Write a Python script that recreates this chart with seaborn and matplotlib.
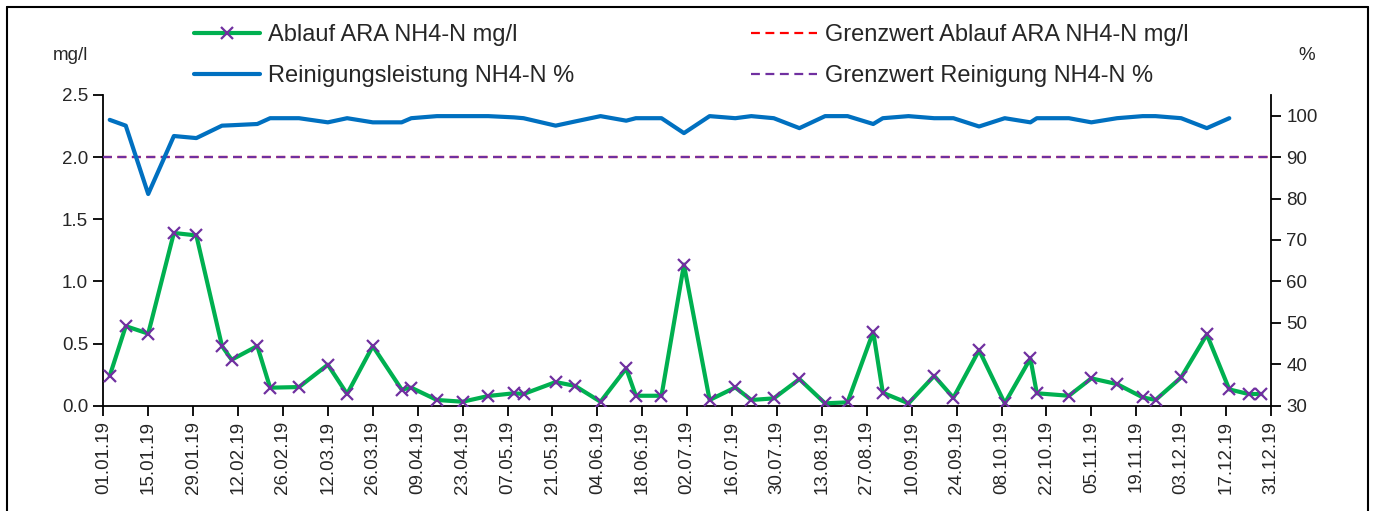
import numpy as np
import pandas as pd
import matplotlib
matplotlib.use("Agg")
import matplotlib.pyplot as plt
import matplotlib.dates as mdates
from matplotlib.lines import Line2D
import seaborn as sns

# ---------------- data ----------------
dates = ["2019-01-03", "2019-01-08", "2019-01-15", "2019-01-23", "2019-01-30",
         "2019-02-07", "2019-02-10", "2019-02-18", "2019-02-22", "2019-03-03",
         "2019-03-12", "2019-03-18", "2019-03-26", "2019-04-04", "2019-04-07",
         "2019-04-15", "2019-04-23", "2019-05-01", "2019-05-09", "2019-05-12",
         "2019-05-22", "2019-05-28", "2019-06-05", "2019-06-13", "2019-06-16",
         "2019-06-24", "2019-07-01", "2019-07-09", "2019-07-17", "2019-07-22",
         "2019-07-29", "2019-08-06", "2019-08-14", "2019-08-21", "2019-08-29",
         "2019-09-01", "2019-09-09", "2019-09-17", "2019-09-23", "2019-10-01",
         "2019-10-09", "2019-10-17", "2019-10-19", "2019-10-29", "2019-11-05",
         "2019-11-13", "2019-11-21", "2019-11-25", "2019-12-03", "2019-12-11",
         "2019-12-18", "2019-12-24", "2019-12-28"]

ablauf_nh4 = [0.24, 0.64, 0.58, 1.39, 1.37,
              0.48, 0.37, 0.48, 0.145, 0.15,
              0.33, 0.094, 0.48, 0.13, 0.145,
              0.046, 0.032, 0.078, 0.10, 0.094,
              0.19, 0.16, 0.032, 0.30, 0.08,
              0.08, 1.135, 0.046, 0.147, 0.046,
              0.059, 0.214, 0.019, 0.027, 0.594,
              0.104, 0.019, 0.24, 0.064, 0.447,
              0.019, 0.38, 0.10, 0.08, 0.22,
              0.174, 0.067, 0.046, 0.228, 0.573,
              0.131, 0.094, 0.094]

reinigung_pct = [99.0, 97.6, 81.1, 95.1, 94.6,
                 97.6, 97.7, 98.0, 99.4, 99.4,
                 98.4, 99.4, 98.4, 98.4, 99.4,
                 99.9, 99.9, 99.9, 99.6, 99.4,
                 97.6, 98.6, 99.9, 98.8, 99.4,
                 99.4, 95.8, 99.9, 99.4, 99.9,
                 99.4, 97.0, 99.9, 99.9, 98.0,
                 99.4, 99.9, 99.4, 99.4, 97.4,
                 99.4, 98.4, 99.4, 99.4, 98.4,
                 99.4, 99.9, 99.9, 99.4, 97.0,
                 99.4, np.nan, np.nan]

grenzwert_ablauf = 2.0      # mg/l
grenzwert_reinigung = 90.0  # %

labels = ["Ablauf ARA NH4-N mg/l", "Reinigungsleistung NH4-N %",
          "Grenzwert Ablauf ARA NH4-N mg/l", "Grenzwert Reinigung NH4-N %"]

df = pd.DataFrame({"Datum": pd.to_datetime(dates),
                   "Ablauf": ablauf_nh4,
                   "Reinigung": reinigung_pct})

# ---------------- style ----------------
sns.set_theme(style="white")
plt.rcParams["font.family"] = ["Liberation Sans", "DejaVu Sans"]
FS = 13.5
LEG_FS = 17

GREEN = "#00B050"
PURPLE = "#7030A0"
BLUE = "#0070C0"
RED = "#FF0000"

W, H = 1375, 511
fig = plt.figure(figsize=(W / 100, H / 100), dpi=100)
x0, x1, ytop, ybot = 103.3, 1271.0, 95.0, 405.7
ax = fig.add_axes([x0 / W, 1 - ybot / H, (x1 - x0) / W, (ybot - ytop) / H])
ax2 = ax.twinx()

# limit lines (drawn under data)
h_ga = ax.axhline(grenzwert_ablauf, color=RED, lw=1.6, ls=(0, (4, 2.5)), zorder=1)
h_gr = ax2.axhline(grenzwert_reinigung, color=PURPLE, lw=1.6, ls=(0, (4, 2.5)), zorder=1)

sns.lineplot(data=df, x="Datum", y="Ablauf", ax=ax, color=GREEN, lw=3.0,
             marker="x", markersize=8, markeredgecolor=PURPLE,
             markeredgewidth=1.6, legend=False, zorder=3)
h_ab = ax.lines[-1]
sns.lineplot(data=df, x="Datum", y="Reinigung", ax=ax2, color=BLUE, lw=3.0,
             legend=False, zorder=3)
h_re = ax2.lines[-1]

ax.set_ylim(0, 2.5)
ax.set_yticks(np.arange(0, 2.51, 0.5))
ax.set_yticklabels([f"{v:.1f}" for v in np.arange(0, 2.51, 0.5)])
ax2.set_ylim(30, 105)
ax2.set_yticks(np.arange(30, 101, 10))

start, end = pd.Timestamp("2019-01-01"), pd.Timestamp("2019-12-31")
ax.set_xlim(start, end)
ax.set_xticks(pd.date_range(start, end, freq="14D"))
ax.xaxis.set_major_formatter(mdates.DateFormatter("%d.%m.%y"))
ax.set_xlabel("")
ax.set_ylabel("")
ax2.set_ylabel("")

for a in (ax, ax2):
    a.set_facecolor("none")
    a.grid(False)
    a.spines["top"].set_visible(False)
    for s in ("left", "right", "bottom"):
        a.spines[s].set_color("black")
        a.spines[s].set_linewidth(1.3)
ax.spines["right"].set_visible(False)
ax2.spines["left"].set_visible(False)
ax2.spines["bottom"].set_visible(False)

ax.tick_params(axis="x", which="both", direction="out", length=7, width=1.3,
               color="black", labelsize=FS, labelrotation=90, pad=4,
               bottom=True)
ax.tick_params(axis="y", direction="out", length=7, width=1.3, color="black",
               labelsize=FS, left=True, pad=4)
ax2.tick_params(axis="y", direction="out", length=7, width=1.3, color="black",
                labelsize=FS, right=True, pad=4)
for t in ax.get_xticklabels():
    t.set_va("top")

# unit labels
fig.text(70 / W, 1 - 55 / H, "mg/l", ha="center", va="center", fontsize=FS)
fig.text(1307 / W, 1 - 55 / H, "%", ha="center", va="center", fontsize=FS)

# legend
handles = [h_ab, h_re, h_ga, h_gr]
leg = fig.legend(handles, labels, ncol=2, loc="upper left",
                 bbox_to_anchor=(194 / W, 1 - 24 / H), frameon=False,
                 fontsize=LEG_FS, handlelength=2.8, handletextpad=0.33,
                 columnspacing=7.5, labelspacing=0.8, borderaxespad=0,
                 borderpad=0)

# outer frame
for xs, ys in (([7 / W, 7 / W], [0, 1 - 7 / H]),
               ([7 / W, 1368 / W], [1 - 7 / H, 1 - 7 / H]),
               ([1368 / W, 1368 / W], [0, 1 - 7 / H])):
    fig.add_artist(Line2D(xs, ys, transform=fig.transFigure, color="black",
                          lw=1.5))

fig.savefig("out.png", dpi=100)
